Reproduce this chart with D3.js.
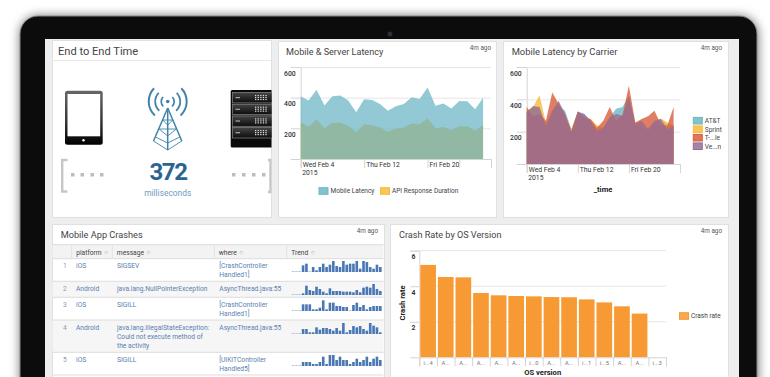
<!DOCTYPE html>
<html lang="en">
  <head>
    <meta charset="UTF-8" />
    <title>mobile dashboard</title>
    <style>
      html, body { margin: 0; padding: 0; background: #fff; overflow: hidden; }
      svg { display: block; font-family: Roboto, "Liberation Sans", sans-serif; }
      .axis path, .axis line { stroke: #d4d4d4; }
      .axis text { fill: #333; font-size: 6.8px; font-family: Roboto, sans-serif; }
      .title { fill: #444; }
      .ago { fill: #555; font-size: 6.3px; }
      .legend { fill: #444; font-size: 6.5px; }
      .cell { fill: #5a7fb0; font-size: 6.7px; }
      .head { fill: #444; font-size: 6.7px; }
      .sort { fill: #aaa; font-size: 5px; font-family: "DejaVu Sans"; }
      .axis-title { fill: #222; font-size: 7.6px; font-weight: 700; }
    </style>
  </head>
  <body>
    <svg width="770" height="377" id="svg"></svg>
    <script src="https://d3js.org/d3.v7.min.js"></script>
    <script>
      // latency charts, one value per day
      const mobileLatency = [408, 382, 451, 349, 410, 414, 382, 305, 390, 384, 358, 314, 344, 358, 403, 392, 467, 347, 362, 329, 379, 377, 325, 399];
      const apiDuration = [238, 211, 257, 201, 235, 238, 216, 174, 227, 220, 205, 179, 198, 205, 231, 227, 266, 201, 209, 187, 214, 214, 185, 222];

      const carrierNames = ["AT&T", "Sprint", "T-...le", "Ve...n"];
      const attValues = [320, 352, 341, 236, 320, 362, 330, 215, 320, 309, 267, 215, 225, 288, 341, 352, 425, 246, 225, 215, 257, 278, 246, 236];
      const sprintValues = [330, 352, 425, 257, 330, 383, 299, 219, 320, 288, 278, 240, 225, 278, 288, 299, 415, 257, 267, 215, 261, 282, 257, 236];
      const tmobileValues = [352, 299, 309, 267, 442, 373, 309, 204, 324, 288, 278, 225, 267, 352, 267, 303, 484, 257, 278, 295, 330, 246, 236, 352];
      const verizonValues = [320, 358, 352, 236, 330, 389, 309, 198, 324, 309, 267, 204, 225, 288, 309, 299, 415, 246, 267, 215, 267, 278, 215, 236];

      // crash rate
      const osLabels = ["i...4", "A...", "A...", "A...", "A...", "A...", "i...0", "A...", "A...", "i...1", "i...5", "A...", "A...", "i...3"];
      const crashRates = [5.2, 4.52, 4.5, 3.62, 3.49, 3.45, 3.43, 3.39, 3.38, 3.26, 3.09, 2.87, 2.46, 0];

      // crash table
      const tableHeaders = ["platform", "message", "where", "Trend"];
      const platforms = ["iOS", "Android", "iOS", "Android", "iOS"];
      const messages = [
        ["SIGSEV"],
        ["java.lang.NullPointerException"],
        ["SIGILL"],
        ["java.lang.IllegalStateException:", "Could not execute method of", "the activity"],
        ["SIGILL"],
      ];
      const wheres = [
        ["[CrashController", "Handled1]"],
        ["AsyncThread.java:55"],
        ["[CrashController", "Handled1]"],
        ["AsyncThread.java:55"],
        ["[UIKITController", "Handled5]"],
      ];
      const trend1 = [0, 0, 0, 20, 25, 0, 15, 5, 15, 25, 15, 22, 33, 18, 15, 33, 22, 25, 25, 33, 10, 33, 30, 15, 10, 22, 15];
      const trend2 = [0, 0, 0, 5, 28, 15, 12, 25, 18, 10, 5, 20, 12, 12, 12, 10, 10, 10, 8, 15, 8, 22, 25, 22, 33, 18, 12];
      const trend3 = [0, 0, 0, 20, 20, 20, 5, 5, 10, 32, 5, 25, 25, 15, 15, 12, 12, 0, 18, 25, 12, 18, 5, 12, 15, 15, 15];
      const trend4 = [0, 0, 0, 15, 15, 5, 5, 20, 13, 18, 18, 15, 10, 18, 10, 33, 5, 12, 24, 20, 24, 15, 10, 33, 25, 20, 5];
      const trend5 = [0, 0, 0, 12, 12, 12, 6, 6, 12, 28, 6, 33, 33, 18, 28, 18, 18, 6, 12, 22, 12, 18, 28, 12, 22, 28, 18];
      const trends = [trend1, trend2, trend3, trend4, trend5];

      const svg = d3.select("#svg");
      const days = d3.timeDay.range(new Date(2015, 1, 4), new Date(2015, 1, 28));
      const timeDomain = [new Date(2015, 1, 4), new Date(2015, 1, 28)];
      const colors = { blue: "#6db7c6", yellow: "#f7bc38", orange: "#d85e3d", purple: "#956e96", bar: "#f89a34" };

      const defs = svg.append("defs");
      defs.append("filter").attr("id", "glow").attr("x", "-10%").attr("y", "-10%").attr("width", "120%").attr("height", "120%")
        .append("feGaussianBlur").attr("stdDeviation", 5);
      const tabletGrad = defs.append("linearGradient").attr("id", "tabletGrad").attr("x1", 0).attr("x2", 0).attr("y1", 0).attr("y2", 1);
      tabletGrad.append("stop").attr("offset", "0%").attr("stop-color", "#666");
      tabletGrad.append("stop").attr("offset", "60%").attr("stop-color", "#333");
      tabletGrad.append("stop").attr("offset", "100%").attr("stop-color", "#000");
      const rackGrad = defs.append("linearGradient").attr("id", "rackGrad").attr("x1", 0).attr("x2", 0).attr("y1", 0).attr("y2", 1);
      rackGrad.append("stop").attr("offset", "0%").attr("stop-color", "#444");
      rackGrad.append("stop").attr("offset", "100%").attr("stop-color", "#0c0c0c");
      defs.append("clipPath").attr("id", "panel1Clip").append("rect")
        .attr("x", 52).attr("y", 40).attr("width", 219.5).attr("height", 177);

      // device frame
      svg.append("rect").attr("x", 19).attr("y", 15).attr("width", 740).attr("height", 420).attr("rx", 20)
        .attr("fill", "#888").attr("filter", "url(#glow)");
      svg.append("rect").attr("x", 20).attr("y", 16).attr("width", 737).attr("height", 420).attr("rx", 18)
        .attr("fill", "#0c0c0c").attr("stroke", "#8a8a8a").attr("stroke-width", 1);
      svg.append("rect").attr("x", 45).attr("y", 39).attr("width", 694).attr("height", 340).attr("fill", "#eeeeee");
      svg.append("circle").attr("cx", 390).attr("cy", 34).attr("r", 2.5).attr("fill", "#2c2f3a");

      function panel(x, y, w, h) {
        svg.append("rect").attr("x", x + 0.5).attr("y", y + 0.5).attr("width", w).attr("height", h)
          .attr("fill", "#fff").attr("stroke", "#e0e0e0");
      }

      function panelTitle(label, x, y, size, agoX, agoY) {
        svg.append("text").attr("class", "title").attr("x", x).attr("y", y).attr("font-size", size).text(label);
        if (agoX) {
          svg.append("text").attr("class", "ago").attr("x", agoX).attr("y", agoY).attr("text-anchor", "end").text("4m ago");
        }
      }

      function legendItem(x, y, color, label) {
        svg.append("rect").attr("x", x).attr("y", y - 3.3).attr("width", 9).attr("height", 6.6).attr("fill", color).attr("fill-opacity", 0.85).attr("stroke", color);
        svg.append("text").attr("class", "legend").attr("x", x + 11.5).attr("y", y + 2.4).text(label);
      }

      // area chart with the time axis and the y ticks
      function areaChart(box, seriesList) {
        const x = d3.scaleTime().domain(timeDomain).range([box.left, box.right]);
        const y = d3.scaleLinear().domain([0, 600]).range([box.bottom, box.top]);

        const yAxis = svg.append("g").attr("class", "axis").attr("transform", `translate(${box.left},0)`)
          .call(d3.axisLeft(y).tickValues([200, 400, 600]).tickSize(10).tickFormat(d3.format("d")));
        yAxis.selectAll("text").attr("x", -5).attr("dy", "1.2em").style("font-weight", 500);
        svg.append("g").selectAll("line").data([200, 400, 600]).join("line")
          .attr("x1", box.left).attr("x2", box.right)
          .attr("y1", (d) => y(d) + 0.5).attr("y2", (d) => y(d) + 0.5)
          .attr("stroke", "#e6e6e6");

        const area = d3.area().x((d, i) => x(days[i])).y0(y(0)).y1((d) => y(d));
        seriesList.forEach((s) => {
          svg.append("path").datum(s.values).attr("d", area).attr("fill", s.color).attr("fill-opacity", s.opacity);
        });

        const xAxis = svg.append("g").attr("class", "axis").attr("transform", `translate(0,${box.bottom})`)
          .call(d3.axisBottom(x).tickValues(box.ticks).tickSize(9).tickFormat(d3.timeFormat("%a %b %-d")));
        xAxis.selectAll("text").attr("text-anchor", "start").attr("x", (d) => 1.5).attr("y", 3).attr("dy", "0.71em");
        xAxis.selectAll(".tick").filter((d) => d.getDate() === 24).select("text").remove();
        xAxis.append("text").attr("x", x(days[0]) + 1.5).attr("y", 11.5).attr("dy", "0.71em").attr("text-anchor", "start").text("2015");
      }

      // top left panel
      panel(52, 40, 219, 177);
      panelTitle("End to End Time", 58, 54.5, 11.1);
      svg.append("line").attr("x1", 52).attr("x2", 271).attr("y1", 60.5).attr("y2", 60.5).attr("stroke", "#e8e8e8");
      const icons = svg.append("g").attr("clip-path", "url(#panel1Clip)");

      icons.append("rect").attr("x", 65).attr("y", 90.7).attr("width", 37.7).attr("height", 54).attr("rx", 2.5).attr("fill", "url(#tabletGrad)");
      icons.append("rect").attr("x", 67.5).attr("y", 94).attr("width", 32.7).attr("height", 42.3).attr("fill", "#fff");
      icons.append("circle").attr("cx", 83.5).attr("cy", 140.3).attr("r", 1.2).attr("fill", "#fff");

      const towerColor = "#3f83a8";
      const towerLines = [
        [167.7, 108, 153.5, 141], [167.7, 108, 181.8, 141], [167.7, 108, 167.7, 150],
        [162.7, 120, 172.7, 120], [162.7, 120, 167.7, 125], [172.7, 120, 167.7, 125],
        [159, 129, 176.4, 129], [159, 129, 167.7, 136], [176.4, 129, 167.7, 136],
        [153.5, 141, 167.7, 150], [181.8, 141, 167.7, 150], [155.5, 137, 167.7, 143], [179.9, 137, 167.7, 143],
      ];
      icons.append("g").selectAll("line").data(towerLines).join("line")
        .attr("x1", (d) => d[0]).attr("y1", (d) => d[1]).attr("x2", (d) => d[2]).attr("y2", (d) => d[3])
        .attr("stroke", towerColor).attr("stroke-width", (d, i) => (i < 3 ? 1.5 : 0.9));
      const wave = d3.arc();
      [[6.5, 1.7], [12.5, 1.8], [19, 2]].forEach(([r, w]) => {
        [[-2.4, -0.8], [0.8, 2.4]].forEach(([a0, a1]) => {
          icons.append("path")
            .attr("d", wave({ innerRadius: r - w / 2, outerRadius: r + w / 2, startAngle: a0, endAngle: a1 }))
            .attr("transform", "translate(167.7,101.5)").attr("fill", towerColor);
        });
      });
      icons.append("circle").attr("cx", 167.7).attr("cy", 101.5).attr("r", 1.8).attr("fill", towerColor);

      icons.append("text").attr("x", 168).attr("y", 180).attr("text-anchor", "middle").attr("font-size", 24)
        .attr("font-weight", 700).attr("letter-spacing", -1.4).attr("fill", "#2a6592").text("372");
      icons.append("text").attr("x", 167.7).attr("y", 196).attr("text-anchor", "middle").attr("font-size", 8.4)
        .attr("fill", "#6f9cbe").text("milliseconds");

      icons.append("path").attr("d", "M67.5,160H62.2V191.5H67.5").attr("fill", "none").attr("stroke", "#c6c6c6").attr("stroke-width", 2.4);
      icons.append("path").attr("d", "M268,160H270.5V192H268").attr("fill", "none").attr("stroke", "#c6c6c6").attr("stroke-width", 2.4);
      [71, 80.5, 90.5, 100, 232, 242, 252, 262].forEach((dx) => {
        icons.append("rect").attr("x", dx).attr("y", 173).attr("width", 3.5).attr("height", 3.5).attr("fill", "#bdbdbd");
      });

      icons.append("rect").attr("x", 230.7).attr("y", 90).attr("width", 45).attr("height", 57.5).attr("rx", 1.5).attr("fill", "#0a0a0a");
      [92.5, 104.2, 115.9, 127.6].forEach((uy) => {
        icons.append("rect").attr("x", 232.5).attr("y", uy).attr("width", 45).attr("height", 10.4)
          .attr("fill", "url(#rackGrad)").attr("stroke", "#8c8c8c").attr("stroke-width", 0.7);
        icons.append("rect").attr("x", 235.5).attr("y", uy + 4.5).attr("width", 4.5).attr("height", 1.2).attr("fill", "#aaa");
        [0, 1, 2, 3, 4].forEach((c) => {
          [0, 1, 2].forEach((r) => {
            icons.append("rect").attr("x", 255 + c * 2.6).attr("y", uy + 2.4 + r * 2).attr("width", 1.3).attr("height", 1.2).attr("fill", "#ddd");
          });
        });
      });

      // mobile and server latency
      panel(278, 41, 218, 176);
      panelTitle("Mobile & Server Latency", 286, 55, 9.1, 491, 50);
      areaChart(
        { left: 300.7, right: 491, top: 67, bottom: 159, ticks: [new Date(2015, 1, 4), new Date(2015, 1, 12), new Date(2015, 1, 20), new Date(2015, 1, 24)] },
        [{ values: apiDuration, color: colors.yellow, opacity: 1 }, { values: mobileLatency, color: colors.blue, opacity: 0.75 }]
      );
      legendItem(319, 191, colors.blue, "Mobile Latency");
      legendItem(380.5, 191, colors.yellow, "API Response Duration");

      // latency by carrier
      panel(503, 41, 225, 176);
      panelTitle("Mobile Latency by Carrier", 511.7, 55, 9.4, 722, 50);
      areaChart(
        { left: 526.7, right: 680, top: 67, bottom: 164, ticks: [new Date(2015, 1, 4), new Date(2015, 1, 12), new Date(2015, 1, 20)] },
        [
          { values: attValues, color: colors.blue, opacity: 0.8 },
          { values: sprintValues, color: colors.yellow, opacity: 0.8 },
          { values: tmobileValues, color: colors.orange, opacity: 0.8 },
          { values: verizonValues, color: colors.purple, opacity: 0.8 },
        ]
      );
      const carrierColors = [colors.blue, colors.yellow, colors.orange, colors.purple];
      carrierNames.forEach((name, i) => legendItem(693.3, 120.7 + i * 8.5, carrierColors[i], name));
      svg.append("text").attr("class", "axis-title").attr("x", 603).attr("y", 192).attr("text-anchor", "middle").text("_time");

      // crash table
      panel(52, 224, 332, 160);
      panelTitle("Mobile App Crashes", 60.7, 237.5, 9.2, 378, 232.5);

      const colX = [52, 71.7, 112.3, 214.3, 286.7, 384];
      const rowY = [258.7, 281.3, 297.3, 320, 352.3, 375];
      svg.append("rect").attr("x", 52.5).attr("y", 244.7).attr("width", 331).attr("height", 14).attr("fill", "#f3f3f3");
      svg.append("rect").attr("x", 52.5).attr("y", rowY[1]).attr("width", 331).attr("height", rowY[2] - rowY[1]).attr("fill", "#f6f6f6");
      svg.append("rect").attr("x", 52.5).attr("y", rowY[3]).attr("width", 331).attr("height", rowY[4] - rowY[3]).attr("fill", "#f6f6f6");
      [244.7, 258.7, 281.3, 297.3, 320, 352.3, 375].forEach((ly) => {
        svg.append("line").attr("x1", 52.5).attr("x2", 383.5).attr("y1", ly).attr("y2", ly).attr("stroke", "#dcdcdc");
      });
      colX.slice(1, 5).forEach((lx) => {
        svg.append("line").attr("x1", lx).attr("x2", lx).attr("y1", 244.7).attr("y2", 258.7).attr("stroke", "#e2e2e2").attr("stroke-width", 1);
      });
      tableHeaders.forEach((label, i) => {
        const t = svg.append("text").attr("class", "head").attr("x", colX[i + 1] + 4.5).attr("y", 254.5).text(label);
        const w = t.node().getComputedTextLength();
        svg.append("text").attr("class", "sort").attr("x", colX[i + 1] + 4.5 + w + 2.5).attr("y", 254).text("◇");
      });
      platforms.forEach((platform, i) => {
        const top = rowY[i] + 9.5;
        svg.append("text").attr("class", "cell").attr("x", 65).attr("y", top).attr("text-anchor", "middle").style("fill", "#999").text(i + 1);
        svg.append("text").attr("class", "cell").attr("x", 76).attr("y", top).text(platform);
        messages[i].forEach((line, j) => {
          svg.append("text").attr("class", "cell").attr("x", 117).attr("y", top + j * 9).text(line);
        });
        wheres[i].forEach((line, j) => {
          svg.append("text").attr("class", "cell").attr("x", 219.3).attr("y", top + j * 9).text(line);
        });
      });

      // trend sparklines
      const sparkBase = [272, 295, 311, 334, 366];
      const sparkY = d3.scaleLinear().domain([0, 33]).range([0, 11]);
      trends.forEach((row, i) => {
        const sparkX = d3.scaleBand().domain(d3.range(row.length)).range([291.7, 291.7 + row.length * 3.33]).paddingInner(0.22);
        svg.append("g").selectAll("rect").data(row).join("rect")
          .attr("x", (d, k) => sparkX(k))
          .attr("width", sparkX.bandwidth())
          .attr("y", (d) => sparkBase[i] - Math.max(sparkY(d), 1))
          .attr("height", (d) => Math.max(sparkY(d), 1))
          .attr("fill", (d) => (d === 0 ? "#b5c8e0" : "#4a78b5"));
      });

      // crash rate bars
      panel(390, 224, 338, 160);
      panelTitle("Crash Rate by OS Version", 399, 237.7, 9.1, 722, 232.7);
      const barX = d3.scaleBand().domain(d3.range(osLabels.length)).range([419.3, 666]).paddingInner(0.11).paddingOuter(0.055);
      const barY = d3.scaleLinear().domain([0, 6]).range([357.3, 250.7]);

      const barYAxis = svg.append("g").attr("class", "axis").attr("transform", "translate(419.3,0)")
        .call(d3.axisLeft(barY).tickValues([2, 4, 6]).tickSize(9).tickFormat(d3.format("d")));
      barYAxis.selectAll("text").attr("x", -4).attr("dy", "1.2em").style("font-weight", 700);
      svg.append("g").selectAll("line").data([2, 4, 6]).join("line")
        .attr("x1", 419.3).attr("x2", 666)
        .attr("y1", (d) => barY(d)).attr("y2", (d) => barY(d))
        .attr("stroke", "#e6e6e6");

      svg.append("g").selectAll("rect").data(crashRates).join("rect")
        .attr("x", (d, i) => barX(i))
        .attr("width", barX.bandwidth())
        .attr("y", (d) => barY(d))
        .attr("height", (d) => barY(0) - barY(d))
        .attr("fill", colors.bar);

      svg.append("g").attr("class", "axis").attr("transform", "translate(0,357.3)")
        .call(d3.axisBottom(d3.scaleLinear().domain([0, osLabels.length]).range([419.3, 666]))
          .tickValues(d3.range(osLabels.length + 1)).tickSize(9).tickFormat(""));
      svg.append("g").selectAll("text").data(osLabels).join("text")
        .attr("x", (d, i) => barX(i) + barX.bandwidth() / 2)
        .attr("y", 365)
        .attr("text-anchor", "middle")
        .attr("font-size", 5.8)
        .attr("fill", "#777")
        .text((d) => d);

      svg.append("text").attr("class", "axis-title").attr("x", 542.7).attr("y", 375).attr("text-anchor", "middle").text("OS version");
      svg.append("text").attr("class", "axis-title").attr("transform", "translate(405,303) rotate(-90)").attr("text-anchor", "middle").text("Crash rate");
      legendItem(679.5, 316, colors.bar, "Crash rate");
    </script>
  </body>
</html>
